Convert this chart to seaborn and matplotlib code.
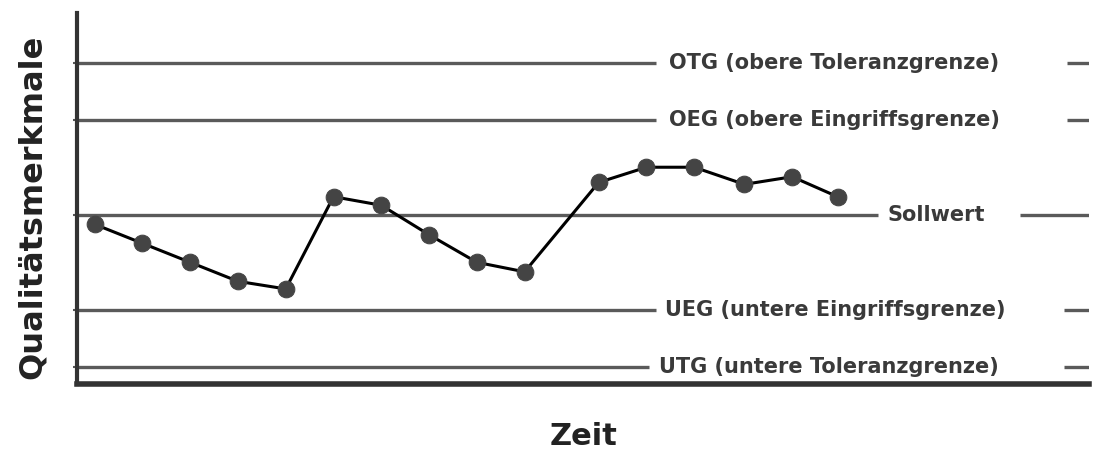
import pandas as pd
import matplotlib.pyplot as plt
import seaborn as sns

# Messwerte (Zeit, Qualitätsmerkmal), Sollwert = 0
zeit = [1, 2, 3, 4, 5, 6, 7, 8, 9, 10, 11.55, 12.55, 13.55, 14.6, 15.6, 16.55]
wert = [-0.5, -1.5, -2.5, -3.5, -3.9, 0.95, 0.5, -1.05, -2.5, -3.0,
        1.7, 2.5, 2.5, 1.6, 2.0, 0.95]

# Grenzlinien
grenz_namen = ["OTG (obere Toleranzgrenze)", "OEG (obere Eingriffsgrenze)", "Sollwert",
               "UEG (untere Eingriffsgrenze)", "UTG (untere Toleranzgrenze)"]
grenz_werte = [8, 5, 0, -5, -8]

sns.set_style("white")
plt.rcParams['font.family'] = ['DejaVu Sans']

fig = plt.figure(figsize=(11.04, 4.55), dpi=100)
ax = fig.add_axes([0.0697, 0.156, 0.917, 0.815])

x0, x1 = 0.63, 21.82
# where each line stops, label starts, dash starts
line_end = [12.74, 12.74, 17.4, 12.74, 12.6]
label_x = [13.03, 13.03, 17.6, 12.93, 12.82]
dash_x = [21.36, 21.36, 20.36, 21.3, 21.3]

for name, y, le, lx, dx in zip(grenz_namen, grenz_werte, line_end, label_x, dash_x):
    ax.hlines(y, x0, le, color='#5a5a5a', lw=2.4, zorder=1)
    ax.hlines(y, dx, x1, color='#5a5a5a', lw=2.4, zorder=1)
    ax.text(lx, y, name, ha='left', va='center', fontsize=15,
            fontweight='bold', color='#3a3a3a')

df = pd.DataFrame({'zeit': zeit, 'wert': wert})
sns.lineplot(data=df, x='zeit', y='wert', ax=ax, color='black', lw=2.2,
             marker='o', markersize=12, markerfacecolor='#444444',
             markeredgecolor='#444444', zorder=3)

ax.set_xlim(x0, x1)
ax.set_ylim(-8.9, 10.6)
ax.set_xticks([])
ax.set_yticks(grenz_werte)
ax.set_yticklabels([])
ax.tick_params(axis='y', length=3, width=1.5, color='#555555', left=True)

for s in ['top', 'right']:
    ax.spines[s].set_visible(False)
ax.spines['left'].set_color('#333333')
ax.spines['left'].set_linewidth(3)
ax.spines['bottom'].set_color('#333333')
ax.spines['bottom'].set_linewidth(4)

ax.set_xlabel("Zeit", fontsize=22, fontweight='bold', color='#222222', labelpad=27)
ax.set_ylabel("Qualitätsmerkmale", fontsize=23, fontweight='bold', color='#222222')
ax.yaxis.set_label_coords(-0.029, 0.477)

fig.savefig("out.png", dpi=100)
